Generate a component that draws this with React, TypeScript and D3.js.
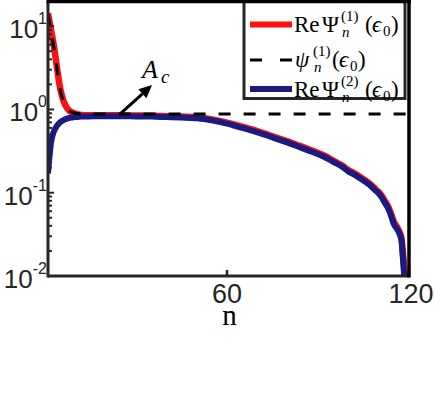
import React from "react";
import * as d3 from "d3";

// n values and series
const nHead = [1, 2, 3, 4, 5, 6, 7, 8, 9, 10, 11, 12];
const redHead = [14.3, 9.0, 5.6, 3.1, 1.8, 1.3, 1.08, 0.97, 0.92, 0.89, 0.87, 0.86];
const psiHead = [14.0, 8.7, 5.4, 3.0, 1.75, 1.28, 1.06, 0.96, 0.92, 0.9, 0.89, 0.88];
const blueHead = [0.17, 0.4, 0.55, 0.64, 0.7, 0.74, 0.77, 0.79, 0.8, 0.81, 0.815, 0.82];

const nTail = [15, 20, 25, 30, 35, 40, 45, 50, 55, 60, 62, 65, 70, 73, 75, 80, 84, 88, 92, 95, 98, 100, 102, 104, 106, 107, 108, 109, 110, 111, 112, 113, 114, 115, 116, 117, 117.5, 118, 118.5, 119];
const blueTail = [0.825, 0.83, 0.83, 0.825, 0.82, 0.81, 0.8, 0.785, 0.74, 0.675, 0.645, 0.6, 0.53, 0.49, 0.46, 0.4, 0.352, 0.31, 0.27, 0.235, 0.205, 0.18, 0.165, 0.148, 0.132, 0.124, 0.115, 0.106, 0.098, 0.088, 0.076, 0.066, 0.054, 0.042, 0.037, 0.031, 0.027, 0.016, 0.009, 0.005];
const redTail = [0.85, 0.85, 0.85, 0.845, 0.84, 0.83, 0.82, 0.805, 0.76, 0.695, 0.665, 0.62, 0.55, 0.505, 0.475, 0.415, 0.365, 0.32, 0.28, 0.243, 0.212, 0.187, 0.171, 0.154, 0.137, 0.129, 0.12, 0.11, 0.102, 0.092, 0.08, 0.07, 0.057, 0.045, 0.039, 0.033, 0.029, 0.019, 0.012, 0.008];
const psiTailN = [13, 120];
const psiTail = [0.88, 0.88];

const xTicks = [60, 120];
const yDecades = [-2, -1, 0, 1];

// annotation arrow (data coords)
const arrowFrom: [number, number] = [24.7, 0.88];
const arrowTo: [number, number] = [35.3, 1.96];

const SANS = "'Liberation Sans', Arial, Helvetica, sans-serif";
const SERIF = "'Liberation Serif', 'DejaVu Serif', 'Times New Roman', serif";
const RED = "#ff1010";
const BLUE = "#1b1a80";
const AXIS = "#262626";

function zip(a: number[], b: number[]): [number, number][] {
  return a.map((v, i) => [v, b[i]]);
}

function LegendLabel({ x, y, head, sup }: { x: number; y: number; head: "Re" | "psi"; sup: string }) {
  const big = 23;
  const small = 15;
  if (head === "Re") {
    return (
      <g fontFamily={SERIF} fill="#000">
        <text x={x} y={y} fontSize={big}>Re</text>
        <text x={x + 28} y={y} fontSize={big}>Ψ</text>
        <text x={x + 47} y={y - 11} fontSize={small}>{sup}</text>
        <text x={x + 48} y={y + 5} fontSize={small} fontStyle="italic">n</text>
        <text x={x + 71} y={y} fontSize={big}>(</text>
        <text x={x + 78} y={y} fontSize={big} fontStyle="italic">ϵ</text>
        <text x={x + 89} y={y + 4} fontSize={small}>0</text>
        <text x={x + 97} y={y} fontSize={big}>)</text>
      </g>
    );
  }
  return (
    <g fontFamily={SERIF} fill="#000">
      <text x={x} y={y} fontSize={big} fontStyle="italic">ψ</text>
      <text x={x + 18} y={y - 11} fontSize={small}>{sup}</text>
      <text x={x + 19} y={y + 5} fontSize={small} fontStyle="italic">n</text>
      <text x={x + 37} y={y} fontSize={big}>(</text>
      <text x={x + 44} y={y} fontSize={big} fontStyle="italic">ϵ</text>
      <text x={x + 55} y={y + 4} fontSize={small}>0</text>
      <text x={x + 63} y={y} fontSize={big}>)</text>
    </g>
  );
}

export default function App() {
  const width = 435;
  const height = 398;
  const left = 48;
  const right = 409;
  const top = 2;
  const bottom = 276;

  const x = d3.scaleLinear().domain([1, 120]).range([left, right]);
  const y = d3.scaleLog().domain([0.01, 19.5]).range([bottom, top]);

  const line = d3
    .line<[number, number]>()
    .x((d) => x(d[0]))
    .y((d) => y(d[1]))
    .curve(d3.curveMonotoneX);

  const redPts = zip(nHead, redHead).concat(zip(nTail, redTail));
  const bluePts = zip(nHead, blueHead).concat(zip(nTail, blueTail));
  const psiPts = zip(nHead, psiHead).concat(zip(psiTailN, psiTail));

  const minor: number[] = [];
  yDecades.forEach((e) => {
    for (let k = 2; k <= 9; k++) {
      const v = k * Math.pow(10, e);
      if (v < 19.5) minor.push(v);
    }
  });

  const ax0 = x(arrowFrom[0]);
  const ay0 = y(arrowFrom[1]);
  const ax1 = x(arrowTo[0]);
  const ay1 = y(arrowTo[1]);
  const ang = Math.atan2(ay1 - ay0, ax1 - ax0);
  const hl = 13;
  const hw = 6;
  const bx = ax1 - hl * Math.cos(ang);
  const by = ay1 - hl * Math.sin(ang);
  const head = [
    [ax1, ay1],
    [bx + hw * Math.sin(ang), by - hw * Math.cos(ang)],
    [bx - hw * Math.sin(ang), by + hw * Math.cos(ang)],
  ]
    .map((p) => p.join(","))
    .join(" ");

  // legend
  const lgX = 244;
  const lgRows = [24.5, 60, 89];

  return (
    <svg
      width={width}
      height={height}
      style={{ position: "absolute", left: 0, top: 0, background: "#fff" }}
    >
      <defs>
        <clipPath id="plotClip">
          <rect x={left} y={top} width={right - left} height={bottom - top} />
        </clipPath>
      </defs>

      <g clipPath="url(#plotClip)" fill="none" strokeLinejoin="round">
        <path d={line(redPts) || ""} stroke={RED} strokeWidth={6.5} />
        <path d={line(bluePts) || ""} stroke={BLUE} strokeWidth={6} />
        <path d={line(psiPts) || ""} stroke="#000" strokeWidth={3} strokeDasharray="12,13" />
      </g>

      {/* y ticks */}
      {yDecades.map((e) => (
        <line key={"M" + e} x1={left} x2={left + 6} y1={y(Math.pow(10, e))} y2={y(Math.pow(10, e))} stroke={AXIS} strokeWidth={2} />
      ))}
      {minor.map((v) => (
        <line key={"m" + v} x1={left} x2={left + 4} y1={y(v)} y2={y(v)} stroke={AXIS} strokeWidth={2} />
      ))}
      {xTicks.map((t) => (
        <line key={"x" + t} x1={x(t)} x2={x(t)} y1={bottom} y2={bottom - 6} stroke={AXIS} strokeWidth={2.5} />
      ))}

      {/* axes & box */}
      <line x1={left} x2={right} y1={bottom} y2={bottom} stroke={AXIS} strokeWidth={3} />
      <line x1={left} x2={left} y1={top} y2={bottom + 1.5} stroke={AXIS} strokeWidth={3} />

      {/* legend */}
      <rect x={lgX} y={1.5} width={161} height={97} fill="#fff" stroke={AXIS} strokeWidth={3} />
      <line x1={lgX + 6} x2={lgX + 48} y1={lgRows[0]} y2={lgRows[0]} stroke={RED} strokeWidth={6} />
      <line x1={lgX + 6} x2={lgX + 48} y1={lgRows[1]} y2={lgRows[1]} stroke="#000" strokeWidth={3} strokeDasharray="12,18" />
      <line x1={lgX + 6} x2={lgX + 48} y1={lgRows[2]} y2={lgRows[2]} stroke={BLUE} strokeWidth={6} />
      <LegendLabel x={294} y={lgRows[0] + 7.5} head="Re" sup="(1)" />
      <LegendLabel x={295} y={lgRows[1] + 6.5} head="psi" sup="(1)" />
      <LegendLabel x={294} y={lgRows[2] + 7.5} head="Re" sup="(2)" />

      <line x1={left - 1.5} x2={right + 2} y1={1.5} y2={1.5} stroke="#000" strokeWidth={3.5} />
      <line x1={right} x2={right} y1={0} y2={bottom + 1.5} stroke="#000" strokeWidth={3.5} />

      {/* arrow annotation */}
      <line x1={ax0} y1={ay0} x2={bx} y2={by} stroke="#000" strokeWidth={3} />
      <polygon points={head} fill="#000" />
      <text x={ax1 - 10} y={ay1 - 7} fontFamily={SERIF} fontSize={26} fontStyle="italic">A</text>
      <text x={ax1 + 9} y={ay1 - 2} fontFamily={SERIF} fontSize={19} fontStyle="italic">c</text>

      {/* y tick labels */}
      {yDecades.map((e) => (
        <text key={"yl" + e} x={47} y={y(Math.pow(10, e)) + 12} textAnchor="end" fontFamily={SANS} fontSize={26} fill={AXIS}>
          10
          <tspan dy={-14} fontSize={16}>{String(e)}</tspan>
        </text>
      ))}

      {/* x tick labels */}
      {xTicks.map((t) => (
        <text key={"xl" + t} x={x(t) + (t === 120 ? 2 : 0)} y={303} textAnchor="middle" fontFamily={SANS} fontSize={27} fill={AXIS}>
          {t}
        </text>
      ))}
      <text x={229.5} y={325} textAnchor="middle" fontFamily={SERIF} fontSize={29} fill="#000">n</text>
    </svg>
  );
}
